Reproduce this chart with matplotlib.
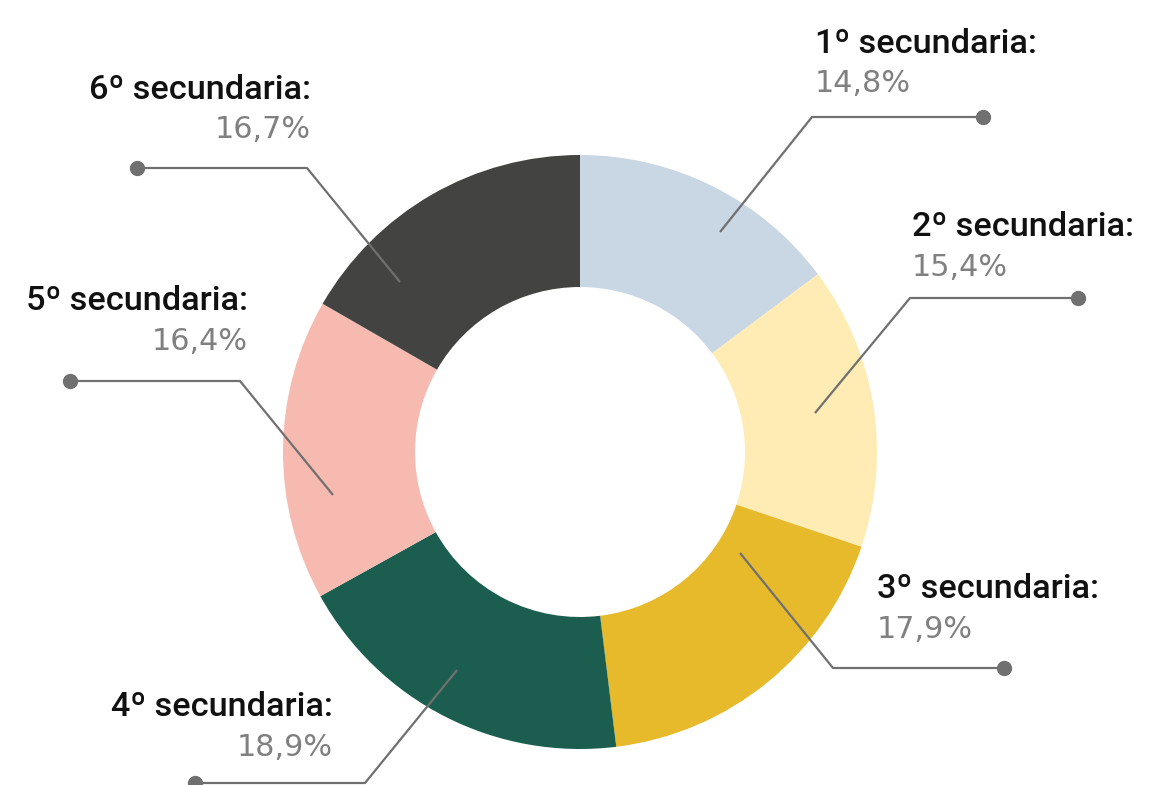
import matplotlib
matplotlib.use("Agg")
import matplotlib.pyplot as plt

categories = ["1º secundaria:", "2º secundaria:", "3º secundaria:",
              "4º secundaria:", "5º secundaria:", "6º secundaria:"]
values = [14.8, 15.4, 17.9, 18.9, 16.4, 16.7]
pct_labels = ["14,8%", "15,4%", "17,9%", "18,9%", "16,4%", "16,7%"]
colors = ["#C9D6E3", "#FEECB4", "#E6BA2A", "#1B5E50", "#F7BAB0", "#434341"]

# layout (pixel coordinates, image space y downward)
W, H = 1170, 785
center = (580, 452)
R_out, R_in = 297, 165
# start, knee, dot, text x, text align, title y, pct y
leaders = [
    ((720, 232), (812, 117), (983, 117), 815, "left", 44, 84),
    ((815, 413), (910, 298), (1078, 298), 912, "left", 227, 268),
    ((740, 553), (833, 668), (1004, 668), 877, "left", 589, 630),
    ((457, 670), (365, 783), (195, 783), 333, "right", 707, 747),
    ((333, 495), (240, 381), (70, 381), 248, "right", 301, 342),
    ((400, 282), (307, 168), (137, 168), 311, "right", 90, 130),
]

fig = plt.figure(figsize=(W / 100, H / 100), dpi=100)
ax = fig.add_axes([0, 0, 1, 1])

def fy(y):
    return H - y

ax.pie(values, colors=colors, startangle=90, counterclock=False,
       center=(center[0], fy(center[1])), radius=R_out,
       wedgeprops=dict(width=R_out - R_in, linewidth=0))
ax.set_xlim(0, W)
ax.set_ylim(0, H)
ax.set_aspect("equal")
ax.axis("off")

line_c = "#707070"
for (cat, pct, lay) in zip(categories, pct_labels, leaders):
    s, k, d, tx, ha, ty, py = lay
    ax.plot([s[0], k[0], d[0]], [fy(s[1]), fy(k[1]), fy(d[1])],
            color=line_c, lw=1.6, solid_capstyle="butt", clip_on=False)
    ax.plot([d[0]], [fy(d[1])], "o", color=line_c, ms=10, clip_on=False)
    ax.text(tx, fy(ty), cat, ha=ha, va="center", fontsize=24.7,
            fontweight="medium", color="#111111", family=["Roboto", "DejaVu Sans"])
    ax.text(tx, fy(py), pct, ha=ha, va="center", fontsize=21.8,
            fontweight="normal", color="#808080", family=["DejaVu Sans"])

fig.savefig("out.png", dpi=100)
